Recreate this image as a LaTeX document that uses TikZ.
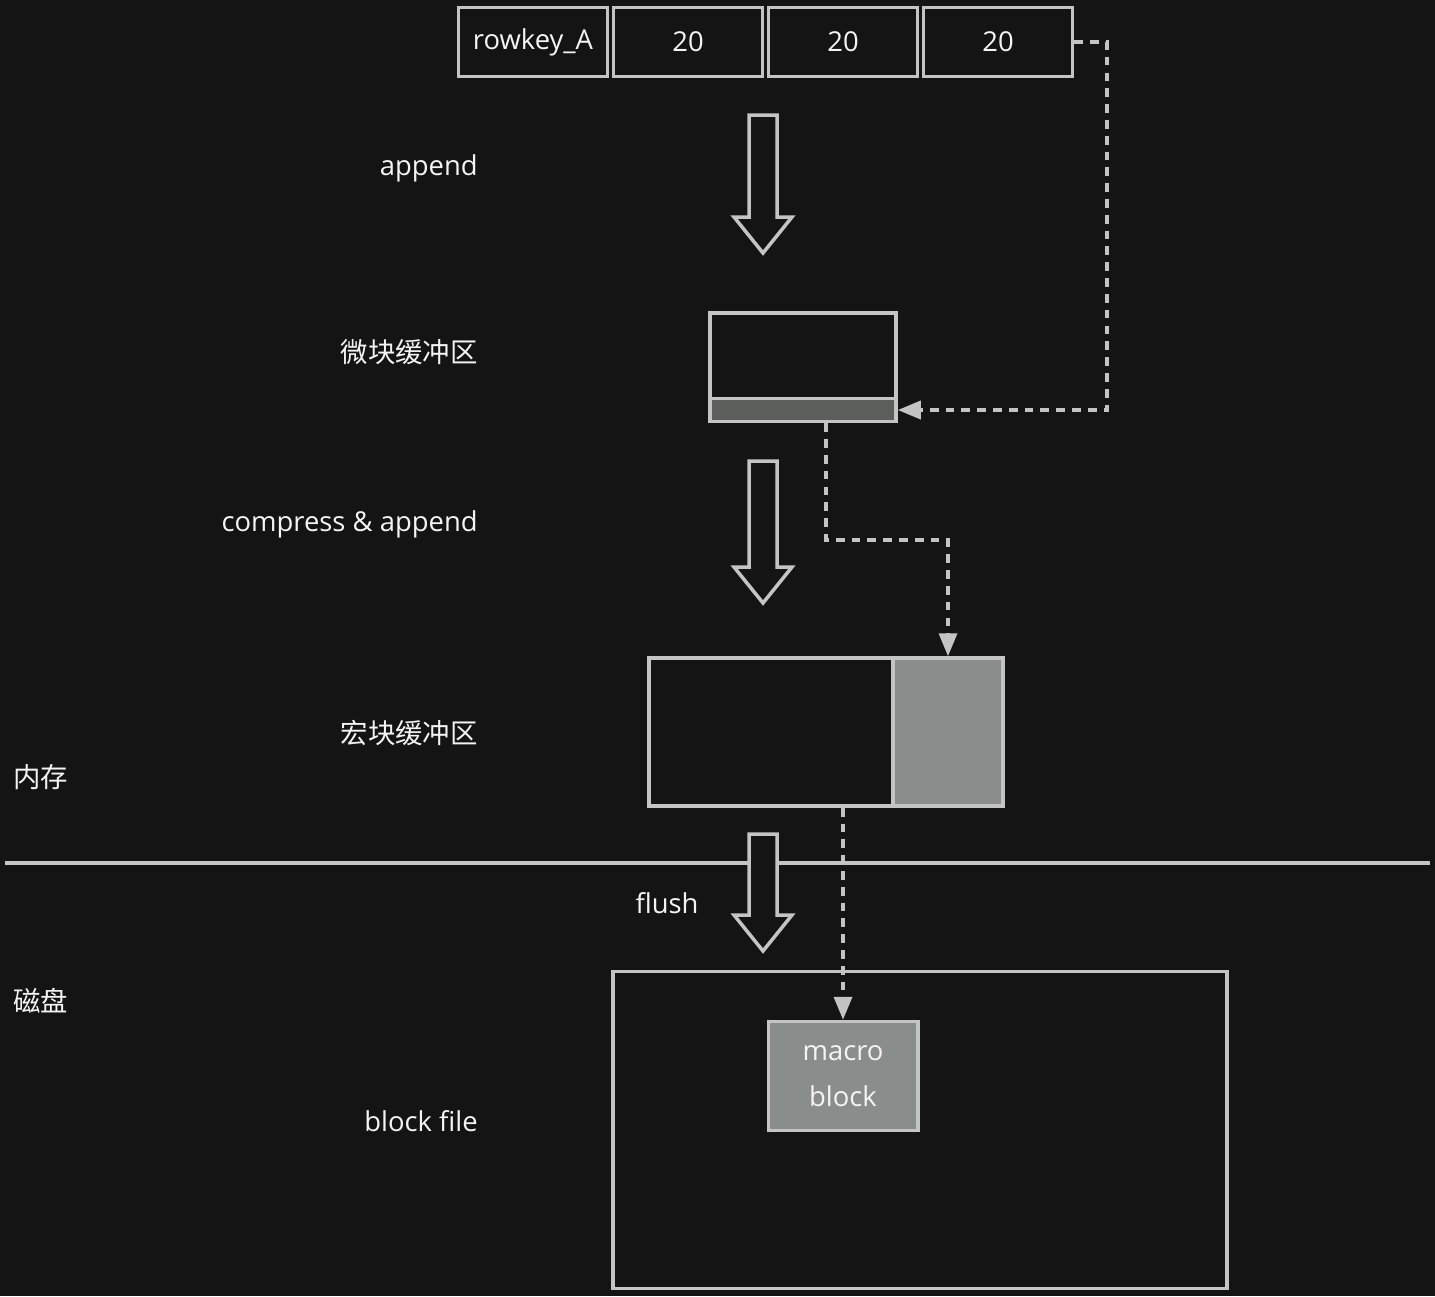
\documentclass[tikz,border=0pt]{standalone}
\usepackage{fontspec}
\setmainfont{Open Sans}
\newfontfamily\cjk{Noto Sans CJK SC}
\usetikzlibrary{
  positioning,
  arrows.meta
}
\definecolor{bgDark}{HTML}{141414}
\definecolor{lineGray}{HTML}{C4C4C4}
\definecolor{stripGray}{HTML}{5C5E5C}
\definecolor{fillGray}{HTML}{898D8B}
\definecolor{txtWhite}{HTML}{F4F4F4}

\begin{document}
\begin{tikzpicture}[
  x=0.02cm, y=-0.02cm,
  every node/.style={font=\fontsize{15.6}{18}\selectfont, text=txtWhite, align=center},
  cell/.style={
    rectangle, draw=lineGray, line width=2pt,
    minimum width=2.98cm, minimum height=1.38cm, inner sep=0pt
  },
  buffer/.style={
    rectangle, draw=lineGray, line width=2pt, inner sep=0pt
  },
  label/.style={anchor=east, inner sep=0pt},
  hollow/.style={draw=lineGray, fill=bgDark, line width=2pt, line join=miter},
  link/.style={
    draw=lineGray, line width=2pt, dash pattern=on 5pt off 4pt,
    -{Triangle[length=0.46cm, width=0.36cm]}
  }
]
 % Background
 \fill[bgDark] (0,0) rectangle (1435,1296);

 % Row record
 \node[cell] (key) at (533,42) {rowkey\_A};
 \node[cell] (c1) at (688,42) {20};
 \node[cell] (c2) at (843,42) {20};
 \node[cell] (c3) at (998,42) {20};

 % Micro block buffer
 \node[buffer, minimum width=3.72cm, minimum height=2.16cm] (micro) at (803,367) {};
 \node[buffer, fill=stripGray, minimum width=3.72cm, minimum height=0.46cm] (strip) at (803,410) {};

 % Macro block buffer
 \node[buffer, minimum width=4.89cm, minimum height=2.96cm] (macroL) at (771,732) {};
 \node[buffer, fill=fillGray, minimum width=2.19cm, minimum height=2.96cm] (macroR) at (948,732) {};

 % Memory / disk divider
 \draw[lineGray, line width=2pt] (5,863) -- (1430,863);

 % Block file
 \node[buffer, minimum width=12.28cm, minimum height=6.34cm] (file) at (920,1130) {};
 \node[buffer, fill=fillGray, minimum width=2.99cm, minimum height=2.18cm,
   font=\fontsize{15.6}{26}\selectfont] (mblock) at (843,1076) {macro\\block};

 % Block arrows
 \foreach \top/\tip in {115/253, 461/603, 834/951} {
  \draw[hollow] (749,\top) -- (749,\tip-36) -- (734,\tip-36) -- (763,\tip)
   -- (792,\tip-36) -- (777,\tip-36) -- (777,\top) -- cycle;
 }

 % Labels
 \node[label] (lAppend) at (478,168) {append};
 \node[label] (lMicro) at (478,352) {\cjk 微块缓冲区};
 \node[label] (lCompress) at (478,524) {compress \& append};
 \node[label] (lMacro) at (478,733) {\cjk 宏块缓冲区};
 \node[label] (lFile) at (478,1121) {block file};
 \node (lFlush) at (667,903) {flush};
 \node[anchor=west, inner sep=0pt] (lMem) at (13,777) {\cjk 内存};
 \node[anchor=west, inner sep=0pt] (lDisk) at (13,1001) {\cjk 磁盘};

 % Dashed links
 \coordinate (turn) at (1107,42);
 \coordinate (bend) at (826,540);
 \draw[link] (c3.east) -- (turn) |- (strip.east);
 \draw[link] (strip.south -| bend) -- (bend) -| (macroR.north);
 \draw[link] (macroL.south -| mblock.north) -- (mblock.north);
\end{tikzpicture}
\end{document}
